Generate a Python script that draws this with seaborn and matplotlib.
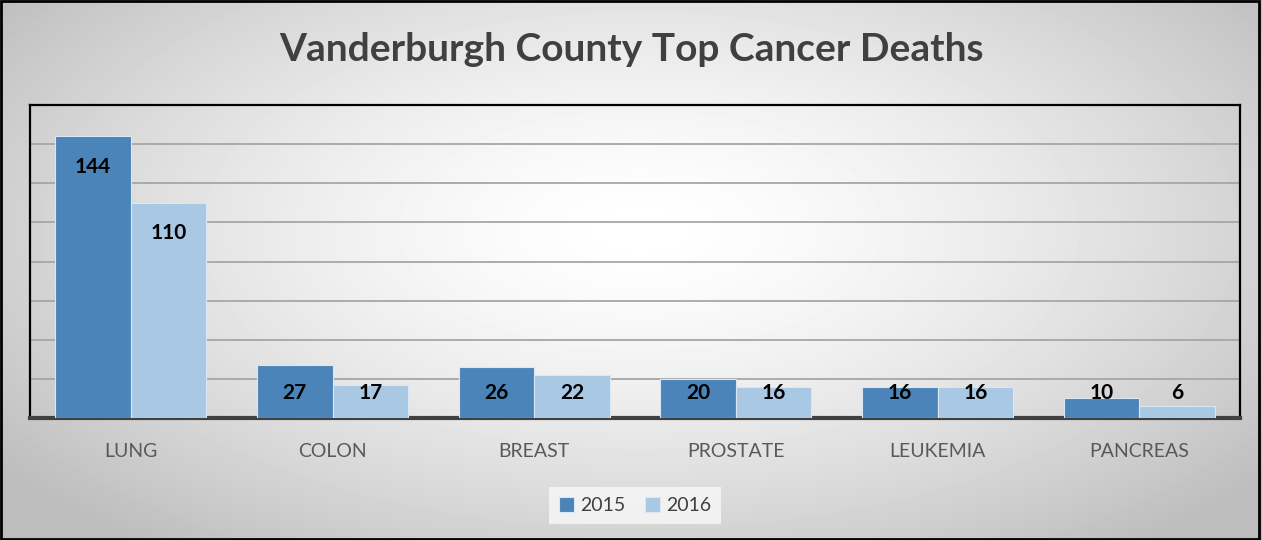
import numpy as np
import pandas as pd
import seaborn as sns
import matplotlib.pyplot as plt
from matplotlib.patches import Rectangle

# chart data
cancers = ["LUNG", "COLON", "BREAST", "PROSTATE", "LEUKEMIA", "PANCREAS"]
deaths_2015 = [144, 27, 26, 20, 16, 10]
deaths_2016 = [110, 17, 22, 16, 16, 6]
years = ["2015", "2016"]

df = pd.DataFrame({
    "Cancer": cancers * 2,
    "Year": [years[0]] * len(cancers) + [years[1]] * len(cancers),
    "Deaths": deaths_2015 + deaths_2016,
})

sns.set_style("white")
plt.rcParams["font.family"] = ["Lato", "DejaVu Sans"]

fig = plt.figure(figsize=(12.62, 5.40), dpi=100)

# radial gradient background
bg = fig.add_axes([0, 0, 1, 1], zorder=-5)
yy, xx = np.mgrid[0:540, 0:1262]
r = np.sqrt(((xx - 640) / 800.0) ** 2 + ((yy - 230) / 400.0) ** 2)
shade = np.clip(1.0 - 0.26 * r ** 1.5, 0.74, 1.0)
bg.imshow(shade, cmap="gray", vmin=0, vmax=1, aspect="auto", interpolation="bilinear")
bg.axis("off")

ax = fig.add_axes([30 / 1262, 122 / 540, 1210 / 1262, 313 / 540])
ax.set_facecolor("none")

palette = {"2015": "#4a84b8", "2016": "#a9c8e4"}
sns.barplot(data=df, x="Cancer", y="Deaths", hue="Year", palette=palette,
            width=0.75, edgecolor="#dbe7f3", linewidth=0.8, saturation=1,
            ax=ax, zorder=3)

ax.set_ylim(0, 160)
ax.set_yticks(np.arange(0, 161, 20))
ax.yaxis.grid(True, color="#a6a6a6", linewidth=1.3, zorder=0)
ax.set_yticklabels([])
ax.tick_params(axis="y", length=0)
ax.tick_params(axis="x", length=0, pad=18, labelsize=14, labelcolor="#595959")
ax.set_xlabel("")
ax.set_ylabel("")

for side in ["left", "right", "top"]:
    ax.spines[side].set_visible(True)
    ax.spines[side].set_color("black")
    ax.spines[side].set_linewidth(1.6)
ax.spines["bottom"].set_color("#404040")
ax.spines["bottom"].set_linewidth(3)

# value labels, inside end, clamped near the bottom
for cont in ax.containers:
    for bar in cont:
        h = bar.get_height()
        ypos = max(h - 15.5, 12.8)
        ax.text(bar.get_x() + bar.get_width() / 2, ypos, f"{int(h)}",
                ha="center", va="center", fontsize=15, fontweight="bold",
                color="black", zorder=5)

leg = ax.legend(loc="center", bbox_to_anchor=(0.5, -0.28), ncol=2, frameon=True,
                fontsize=14, handlelength=0.8, handleheight=0.8, handletextpad=0.3,
                columnspacing=1.0, fancybox=False, borderpad=0.5)
leg.get_frame().set_facecolor("#f8f8f8")
leg.get_frame().set_edgecolor("none")
for t in leg.get_texts():
    t.set_color("#404040")

fig.text(0.5, 0.908, "Vanderburgh County Top Cancer Deaths", ha="center", va="center",
         fontsize=28, fontweight="bold", color="#404040")

fig.patches.append(Rectangle((0.001, 0.002), 0.997, 0.996, transform=fig.transFigure,
                             fill=False, edgecolor="black", linewidth=2))

fig.savefig("out.png", dpi=100)
